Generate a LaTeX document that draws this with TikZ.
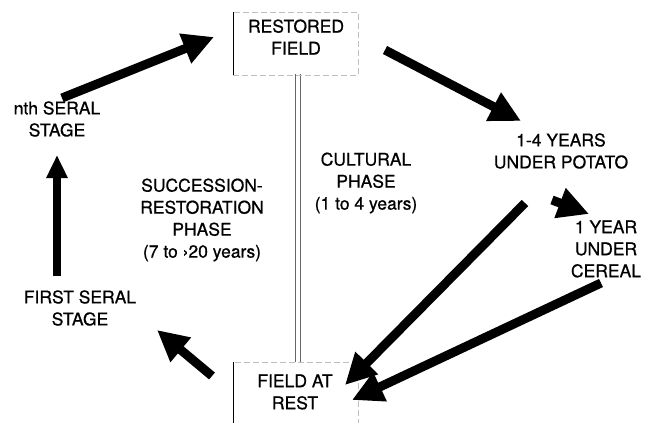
\documentclass[tikz,border=0pt]{standalone}
\usepackage{fontspec}
\setmainfont[FakeBold=0.7,AutoFakeBold=0.7]{TeX Gyre Heros}
\usetikzlibrary{arrows.meta}

\tikzset{
  lbl/.style={align=center, inner sep=0pt, font=\fontsize{17.5}{22}\selectfont\bfseries},
  bigarrow/.style={line width=9pt, -{Triangle[length=31pt,width=30pt]}},
  smallarrow/.style={line width=8pt, -{Triangle[length=23pt,width=20pt]}},
  boxline/.style={draw=black!25, dash pattern=on 6pt off 3pt, line width=0.6pt}
}

\begin{document}
\begin{tikzpicture}[x=1pt,y=-1pt]
  \useasboundingbox (0,0) rectangle (654,423);

  % kozepso kettos vonal
  \draw[black!60, double=white, double distance=3.5pt, line width=0.8pt] (298,74) -- (298,362);

  % dobozok
  \draw[boxline] (233,12) rectangle (358,75);
  \draw[thin] (233,12) -- (233,75);
  \draw[boxline] (233,362) rectangle (358,430);
  \draw[thin] (233,362) -- (233,423);

  % feliratok
  \node[lbl] (restored) at (296,37) {RESTORED\\FIELD};
  \node[lbl] (rest) at (295,392) {FIELD AT\\REST};
  \node[lbl] (nth) at (57,119) {nth SERAL\\STAGE};
  \node[lbl] (first) at (80,308) {FIRST SERAL\\STAGE};
  \node[lbl] (potato) at (561,151) {1-4 YEARS\\UNDER POTATO};
  \node[lbl] (cereal) at (606,249) {1 YEAR\\UNDER\\CEREAL};
  \node[lbl] (succ) at (202,220) {SUCCESSION-\\RESTORATION\\PHASE\\(7 to ›20 years)};
  \node[lbl] (cult) at (366,183) {CULTURAL\\PHASE\\(1 to 4 years)};

  % nyilak vegpontjai
  \coordinate (nthout) at (62,98);
  \coordinate (restoredin) at (214,37);
  \coordinate (restoredout) at (385,50);
  \coordinate (potatoin) at (521,121);
  \coordinate (potatoout) at (552,200);
  \coordinate (cerealin) at (589,214);
  \coordinate (potatodown) at (525,203);
  \coordinate (restin) at (345,385);
  \coordinate (cerealout) at (601,283);
  \coordinate (restin2) at (352,400);
  \coordinate (restout) at (212,376);
  \coordinate (firstin) at (157,330);
  \coordinate (firstout) at (57,276);
  \coordinate (nthin) at (57,155);

  % nyilak
  \draw[bigarrow] (nthout) -- (restoredin);
  \draw[bigarrow] (restoredout) -- (potatoin);
  \draw[bigarrow] (potatoout) -- (cerealin);
  \draw[bigarrow] (potatodown) -- (restin);
  \draw[bigarrow] (cerealout) -- (restin2);
  \draw[bigarrow] (restout) -- (firstin);
  \draw[smallarrow] (firstout) -- (nthin);
\end{tikzpicture}
\end{document}
